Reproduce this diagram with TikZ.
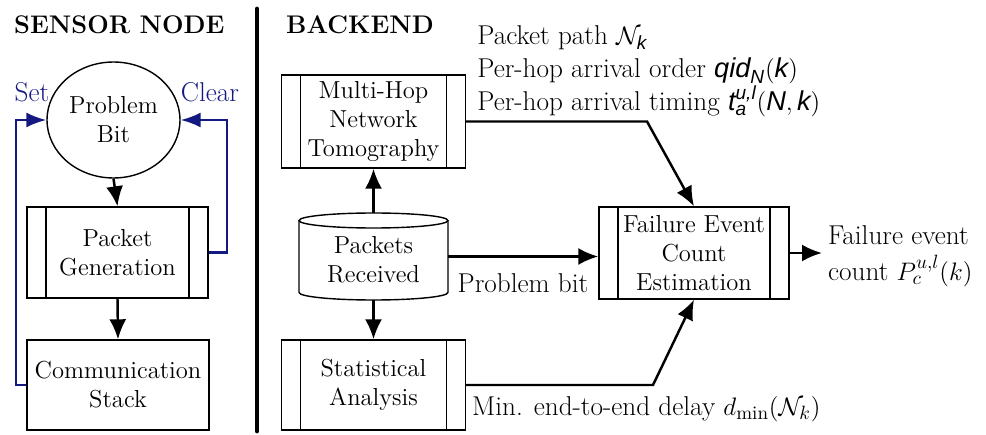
\documentclass[tikz,border=0pt]{standalone}
\usepackage{amsmath}
\usepackage{fontspec}
\newfontfamily\hvfont{Liberation Sans}
\usetikzlibrary{arrows.meta,shapes.geometric}
\definecolor{setblue}{RGB}{20,25,130}
\newcommand\hk[1]{\text{\hvfont\itshape #1}}
\tikzset{
  boxfont/.style={font=\fontsize{14}{16.5}\selectfont},
  lblfont/.style={font=\fontsize{15.5}{18.8}\selectfont},
  headfont/.style={font=\fontsize{14.5}{17}\selectfont\bfseries},
  proc/.style={draw, line width=0.8pt, boxfont, align=center, inner sep=0pt,
    path picture={
      \draw[line width=0.8pt] ([xshift=0.38cm]path picture bounding box.north west) -- ([xshift=0.38cm]path picture bounding box.south west);
      \draw[line width=0.8pt] ([xshift=-0.38cm]path picture bounding box.north east) -- ([xshift=-0.38cm]path picture bounding box.south east);
    }},
  plainbox/.style={draw, line width=0.8pt, boxfont, align=center, inner sep=0pt},
  arr/.style={line width=1.4pt, -{Latex[length=0.4cm,width=0.34cm]}},
  barr/.style={line width=1.3pt, color=setblue, -{Latex[length=0.4cm,width=0.3cm]}}
}
\begin{document}
\begin{tikzpicture}[x=0.02cm,y=-0.02cm]
\useasboundingbox (0,0) rectangle (986,435);
% headings
\node[headfont, anchor=west] (hs) at (8,25) {SENSOR NODE};
\node[headfont, anchor=west] (hb) at (280,25) {BACKEND};
% separator
\draw[line width=2.8pt, line cap=round] (257,9) -- (257,431);
% sensor node
\node[ellipse, draw, line width=0.8pt, boxfont, align=center, minimum width=2.66cm, minimum height=2.32cm, inner sep=0pt] (pb) at (113.5,120) {Problem\\Bit};
\node[proc, minimum width=3.62cm, minimum height=1.82cm] (pg) at (117.5,252.5) {Packet\\Generation};
\node[plainbox, minimum width=3.64cm, minimum height=1.8cm] (cs) at (118,385) {Communication\\Stack};
\draw[arr] (pb.south) -- (pg.north);
\draw[arr] (pg.south) -- (cs.north);
\draw[barr] (cs.west) -- ++(-10,0) |- (pb.west);
\draw[barr] (pg.east) -- ++(18,0) |- (pb.east);
\node[lblfont, text=setblue] (set) at (32,92) {Set};
\node[lblfont, text=setblue] (clr) at (210,92) {Clear};
% backend
\node[proc, minimum width=3.68cm, minimum height=1.86cm] (mh) at (373.5,121.5) {Multi-Hop\\Network\\Tomography};
\node[proc, minimum width=3.68cm, minimum height=1.8cm] (sa) at (373.5,385) {Statistical\\Analysis};
\node[proc, minimum width=3.8cm, minimum height=1.84cm] (fe) at (694,253) {Failure Event\\Count\\Estimation};
% cylinder
\node[minimum width=2.98cm, minimum height=1.74cm, inner sep=0pt] (pr) at (373.5,256.5) {};
\draw[line width=0.8pt] (299,220.5) -- (299,292.5) arc[start angle=180,end angle=360,x radius=1.49cm,y radius=0.15cm] -- (448,220.5);
\draw[line width=0.8pt] (373.5,220.5) ellipse[x radius=1.49cm, y radius=0.15cm];
\node[boxfont, align=center] (prt) at (373.5,260) {Packets\\Received};
\draw[arr] (pr.north) -- (mh.south);
\draw[arr] (pr.south) -- (sa.north);
\draw[arr] (pr.east) -- (pr.east -| fe.west);
\node[lblfont] (pbl) at (523,283) {Problem bit};
% bends
\coordinate (k1) at (647,121.5);
\coordinate (k2) at (653,385);
\draw[arr] (mh.east) -- (k1) -- (fe.north);
\draw[arr] (sa.east) -- (k2) -- (fe.south);
\coordinate (out) at (822,253);
\draw[arr] (fe.east) -- (out);
\node[lblfont, anchor=west, align=left, inner sep=1pt] (outl) at (826,256) {Failure event\\[2pt]count $P_c^{u,l}(k)$};
\node[lblfont, anchor=north west, align=left, inner sep=0pt] (info) at (477,25) {Packet path $\mathcal{N}_{\hk{k}}$\\Per-hop arrival order $\hk{qid}_{\hk{N}}(\hk{k})$\\Per-hop arrival timing $\hk{t}_{\hk{a}}^{\hk{u,l}}(\hk{N},\hk{k})$};
\node[lblfont, anchor=west] (mind) at (466,409) {Min. end-to-end delay $d_{\min}(\mathcal{N}_k)$};
\end{tikzpicture}
\end{document}
